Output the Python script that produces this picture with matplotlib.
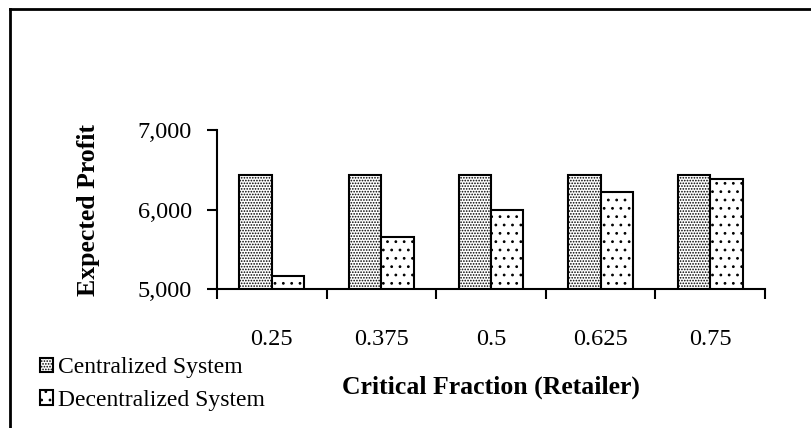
import numpy as np
import matplotlib.pyplot as plt
from matplotlib.lines import Line2D

categories = ['0.25', '0.375', '0.5', '0.625', '0.75']
centralized = [6430, 6430, 6430, 6430, 6430]
decentralized = [5165, 5660, 6000, 6225, 6385]
yticks = [5000, 6000, 7000]

plt.rcParams['font.family'] = ['Liberation Serif', 'DejaVu Serif']
plt.rcParams['hatch.linewidth'] = 0.8

fig = plt.figure(figsize=(8.12, 4.28), dpi=100)
ax = fig.add_axes([217/812, 139/428, (765-217)/812, (289-130)/428])

x = np.arange(len(categories))
w = 0.295
b1 = ax.bar(x - w/2, centralized, w, color='white', edgecolor='black',
            linewidth=1.5, hatch='......', label='Centralized System')
b2 = ax.bar(x + w/2, decentralized, w, color='white', edgecolor='black',
            linewidth=1.5, hatch='..', label='Decentralized System')

ax.set_xlim(-0.5, len(categories) - 0.5)
ax.set_ylim(5000, 7000)
ax.set_yticks(yticks)
ax.set_yticklabels([f'{v:,}' for v in yticks], fontsize=17.5)
ax.set_xticks(x)
ax.set_xticklabels(categories, fontsize=17.5)
ax.set_xticks(np.arange(len(categories) + 1) - 0.5, minor=True)
ax.tick_params(axis='x', which='major', length=0, pad=28.5)
ax.tick_params(axis='x', which='minor', length=7, width=1.5, direction='out')
ax.tick_params(axis='y', length=7, width=1.5, direction='out', pad=11)
for s in ['top', 'right']:
    ax.spines[s].set_visible(False)
for s in ['left', 'bottom']:
    ax.spines[s].set_linewidth(1.5)

ax.set_ylabel('Expected Profit', fontsize=18.5, fontweight='bold')
ax.yaxis.set_label_coords((100-217)/548, 0.5)
ax.set_xlabel('Critical Fraction (Retailer)', fontsize=18.5, fontweight='bold')
ax.xaxis.set_label_coords((491-217)/548, (289-376)/159)

ax.legend(handles=[b1, b2], loc='upper left', bbox_to_anchor=(40/812, 1 - 357/428),
          bbox_transform=fig.transFigure, frameon=False, fontsize=17,
          handlelength=0.55, handleheight=0.55, handletextpad=0.2, labelspacing=0.5,
          borderpad=0, borderaxespad=0)

# outer frame
fig.add_artist(Line2D([10/812, 10/812], [0, 1 - 9/428], color='black', lw=2, transform=fig.transFigure))
fig.add_artist(Line2D([10/812, 1], [1 - 9/428, 1 - 9/428], color='black', lw=2, transform=fig.transFigure))

plt.savefig('out.png', dpi=100)
